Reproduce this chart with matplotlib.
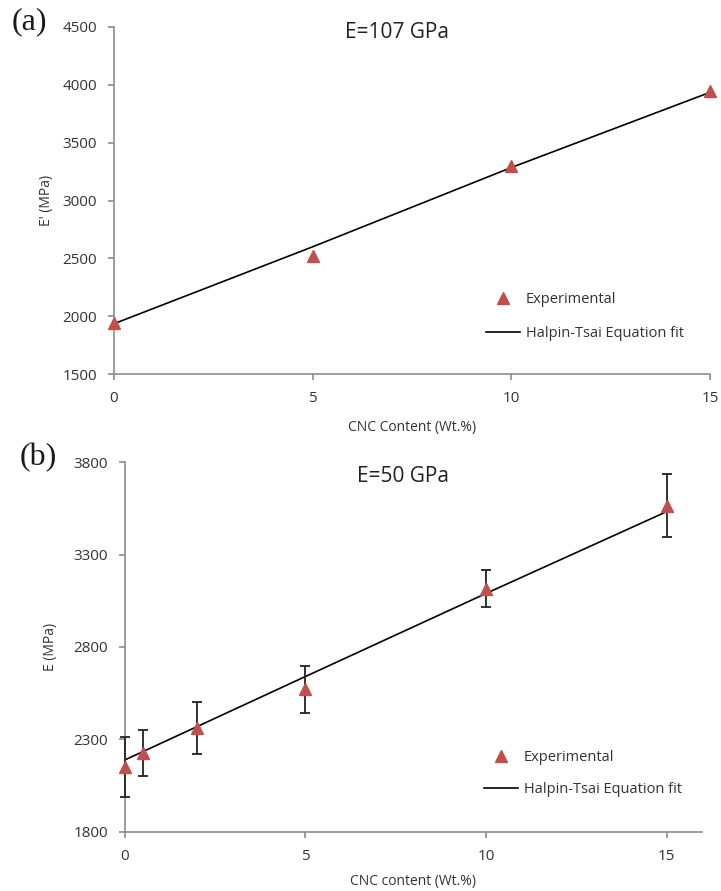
import matplotlib
matplotlib.use("Agg")
import matplotlib.pyplot as plt
from matplotlib.lines import Line2D

plt.rcParams['font.family'] = ['Open Sans', 'DejaVu Sans']

# ---- Panel (a) data ----
a_x = [0, 5, 10, 15]
a_exp = [1940, 2520, 3300, 3950]
a_fit_x = [0, 5, 10, 15]
a_fit = [1935, 2600, 3285, 3935]
a_yticks = [1500, 2000, 2500, 3000, 3500, 4000, 4500]
a_xticks = [0, 5, 10, 15]

# ---- Panel (b) data ----
b_x = [0, 0.5, 2, 5, 10, 15]
b_exp = [2150, 2225, 2360, 2570, 3115, 3565]
b_err = [160, 125, 140, 125, 100, 170]
b_fit_x = [0, 5, 10, 15]
b_fit = [2188, 2640, 3090, 3533]
b_yticks = [1800, 2300, 2800, 3300, 3800]
b_xticks = [0, 5, 10, 15]

RED = '#C0504D'
GREY = '#8c8c8c'
TXT = '#333333'

fig = plt.figure(figsize=(7.21, 8.91), dpi=100)

def style(ax):
    for s in ['top', 'right']:
        ax.spines[s].set_visible(False)
    for s in ['left', 'bottom']:
        ax.spines[s].set_color(GREY)
        ax.spines[s].set_linewidth(1.2)
    ax.tick_params(axis='both', colors=GREY, length=4, width=1.2, direction='out',
                   labelsize=11, labelcolor=TXT)
    ax.tick_params(axis='y', pad=8)
    ax.tick_params(axis='x', pad=8.5)

def legend(ax, x0, y0, spacing):
    handles = [Line2D([], [], marker='^', color=RED, linestyle='none', markersize=9),
               Line2D([], [], color='black', linewidth=1.2)]
    leg = ax.legend(handles, ['Experimental', 'Halpin-Tsai Equation fit'],
                    loc='upper left', bbox_to_anchor=(x0, y0), frameon=False,
                    fontsize=10.5, handlelength=2.3, handletextpad=0.4,
                    labelspacing=spacing, borderpad=0, borderaxespad=0)
    for t in leg.get_texts():
        t.set_color(TXT)

# Panel (a)
ax1 = fig.add_axes([0.1581, 0.5802, 0.8266, 0.3895])
style(ax1)
ax1.plot(a_fit_x, a_fit, color='black', linewidth=1.2, zorder=2)
ax1.plot(a_x, a_exp, linestyle='none', marker='^', color=RED, markersize=9,
         clip_on=False, zorder=3)
ax1.set_xlim(0, 15)
ax1.set_ylim(1500, 4500)
ax1.set_xticks(a_xticks)
ax1.set_yticks(a_yticks)
ax1.set_xlabel('CNC Content (Wt.%)', fontsize=10, color=TXT, labelpad=9.5)
ax1.set_ylabel("E' (MPa)", fontsize=10, color=TXT, labelpad=6)
legend(ax1, 0.625, 0.237, 1.35)
fig.text(345/721, 1 - 33/891, 'E=107 GPa', fontsize=15, color='#222222',
         va='center', ha='left')
fig.text(12/721, 1 - 22/891, '(a)', fontsize=23, family='Liberation Serif',
         color='#1a1a1a', va='center', ha='left')

# Panel (b)
ax2 = fig.add_axes([0.1730, 0.0666, 0.8002, 0.4145])
style(ax2)
ax2.plot(b_fit_x, b_fit, color='black', linewidth=1.2, zorder=2)
ax2.errorbar(b_x, b_exp, yerr=b_err, fmt='none', ecolor='#222222', elinewidth=1.3,
             capsize=3.5, capthick=1.3, zorder=3, clip_on=False)
ax2.plot(b_x, b_exp, linestyle='none', marker='^', color=RED, markersize=9,
         clip_on=False, zorder=4)
ax2.set_xlim(0, 15.97)
ax2.set_ylim(1800, 3800)
ax2.set_xticks(b_xticks)
ax2.set_yticks(b_yticks)
ax2.set_xlabel('CNC content (Wt.%)', fontsize=10, color=TXT, labelpad=7)
ax2.set_ylabel('E (MPa)', fontsize=10, color=TXT, labelpad=11)
legend(ax2, 0.623, 0.222, 1.2)
fig.text(357/721, 1 - 476/891, 'E=50 GPa', fontsize=15, color='#222222',
         va='center', ha='left')
fig.text(20/721, 1 - 458/891, '(b)', fontsize=23, family='Liberation Serif',
         color='#1a1a1a', va='center', ha='left')

fig.savefig('out.png', dpi=100)
